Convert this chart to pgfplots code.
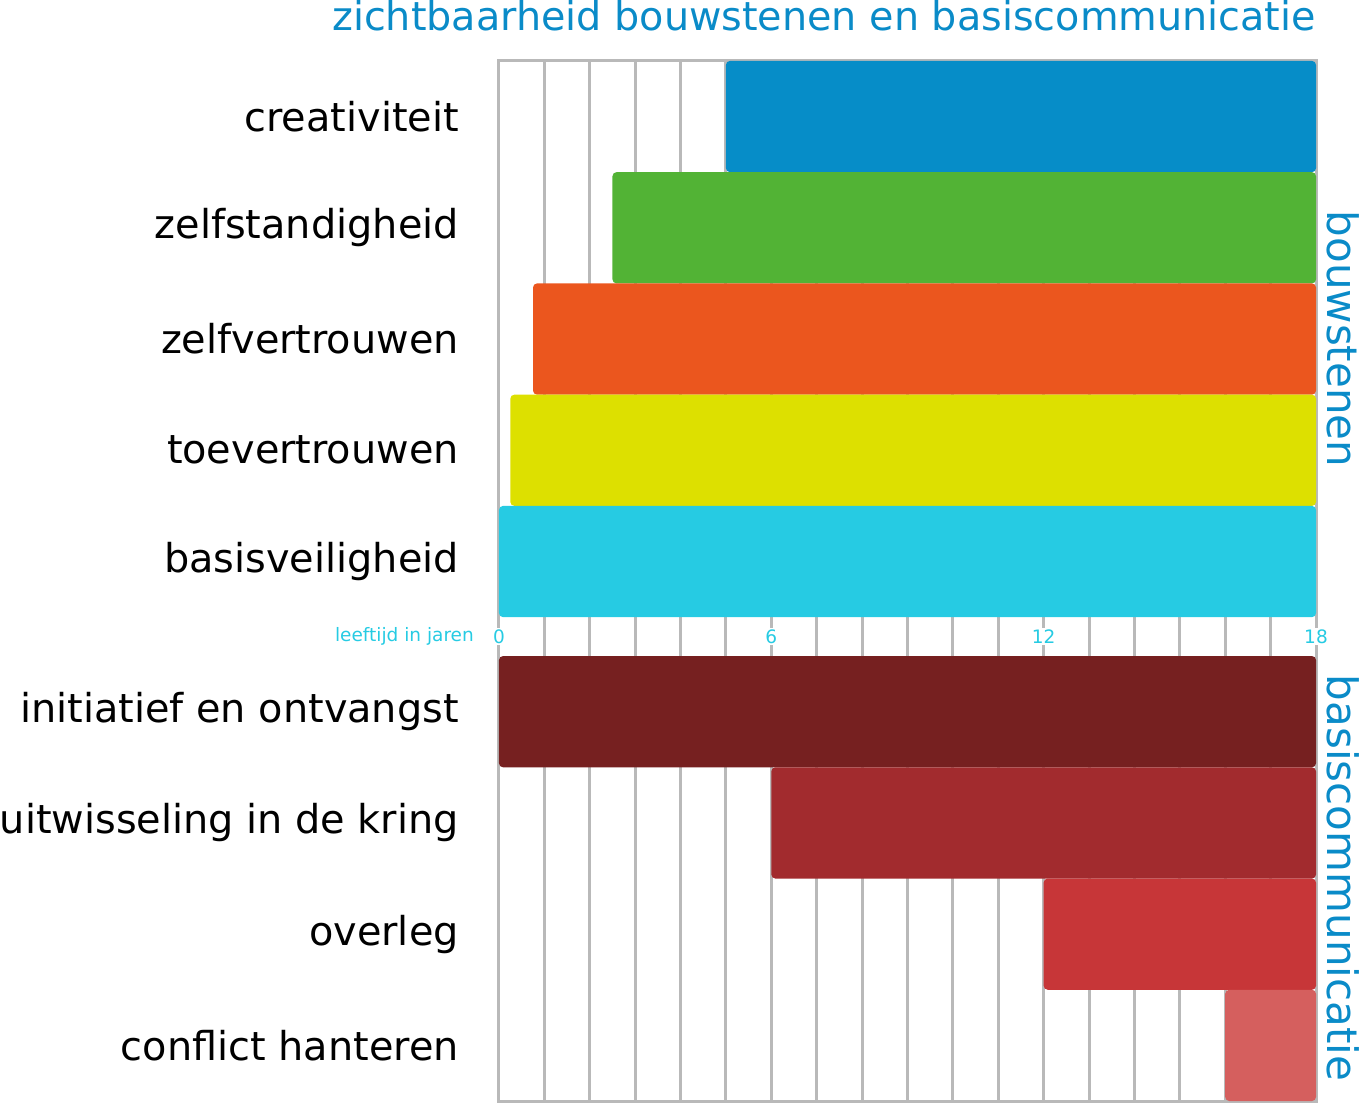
\documentclass[border=0pt]{standalone}
\usepackage{pgfplots}
\pgfplotsset{compat=1.18}
\usepackage{fontspec}
\setmainfont{DejaVu Sans}
\definecolor{titleblue}{HTML}{0A8BC8}
\definecolor{tickcyan}{HTML}{26CBE3}
\definecolor{gridgray}{HTML}{B9B9B9}
\definecolor{cCre}{HTML}{068DC8}
\definecolor{cZst}{HTML}{52B335}
\definecolor{cZvt}{HTML}{EB561E}
\definecolor{cTvt}{HTML}{DDE000}
\definecolor{cBas}{HTML}{26CBE3}
\definecolor{cIni}{HTML}{762020}
\definecolor{cUit}{HTML}{A22B2E}
\definecolor{cOve}{HTML}{C73638}
\definecolor{cCon}{HTML}{D55F5E}
\begin{document}
\begin{tikzpicture}
\useasboundingbox (0,0) rectangle (1363pt,1103pt);
\begin{axis}[
  at={(499pt,2pt)}, anchor=south west,
  scale only axis, width=817pt, height=1040pt,
  xmin=0, xmax=18, ymin=-0.5, ymax=8.85, y dir=reverse,
  xtick={0,1,...,18}, xticklabel=\empty,
  xmajorgrids, grid style={gridgray, line width=3pt},
  ytick={0,1,2,3,4,5.35,6.35,7.35,8.35},
  yticklabels={creativiteit,zelfstandigheid,zelfvertrouwen,toevertrouwen,basisveiligheid,initiatief en ontvangst,uitwisseling in de kring,overleg,conflict hanteren},
  yticklabel style={font=\fontsize{39.8}{42}\selectfont, text=black, inner sep=0pt, xshift=-40pt},
  major tick length=0pt,
  axis line style={draw=gridgray, line width=3pt},
  clip=false,
]
% bouwstenen: start age .. 18
\addplot[fill=cCre, draw=none, rounded corners=4pt] coordinates {(5,-0.5) (18,-0.5) (18,0.5) (5,0.5)} -- cycle;
\addplot[fill=cZst, draw=none, rounded corners=4pt] coordinates {(2.5,0.5) (18,0.5) (18,1.5) (2.5,1.5)} -- cycle;
\addplot[fill=cZvt, draw=none, rounded corners=4pt] coordinates {(0.75,1.5) (18,1.5) (18,2.5) (0.75,2.5)} -- cycle;
\addplot[fill=cTvt, draw=none, rounded corners=4pt] coordinates {(0.25,2.5) (18,2.5) (18,3.5) (0.25,3.5)} -- cycle;
\addplot[fill=cBas, draw=none, rounded corners=4pt] coordinates {(0,3.5) (18,3.5) (18,4.5) (0,4.5)} -- cycle;
% basiscommunicatie
\addplot[fill=cIni, draw=none, rounded corners=4pt] coordinates {(0,4.85) (18,4.85) (18,5.85) (0,5.85)} -- cycle;
\addplot[fill=cUit, draw=none, rounded corners=4pt] coordinates {(6,5.85) (18,5.85) (18,6.85) (6,6.85)} -- cycle;
\addplot[fill=cOve, draw=none, rounded corners=4pt] coordinates {(12,6.85) (18,6.85) (18,7.85) (12,7.85)} -- cycle;
\addplot[fill=cCon, draw=none, rounded corners=4pt] coordinates {(16,7.85) (18,7.85) (18,8.85) (16,8.85)} -- cycle;
\foreach \v in {0,6,12,18}{
  \edef\tmp{\noexpand\node[fill=white, inner sep=1.5pt, text=tickcyan, font=\noexpand\fontsize{18.5}{18.5}\noexpand\selectfont] at (axis cs:\v,4.675) {\v};}
  \tmp
}
\node[anchor=east, inner sep=0pt, text=tickcyan, font=\fontsize{18.5}{18.5}\selectfont, xshift=-25pt] at (axis cs:0,4.675) {leeftijd in jaren};
\end{axis}
\node[anchor=base east, inner sep=0pt, text=titleblue, font=\fontsize{39.7}{42}\selectfont] at (1316pt,1072pt) {zichtbaarheid bouwstenen en basiscommunicatie};
\node[rotate=-90, inner sep=0pt, text=titleblue, font=\fontsize{42}{42}\selectfont] at (1343pt,764pt) {bouwstenen};
\node[rotate=-90, inner sep=0pt, text=titleblue, font=\fontsize{42}{42}\selectfont] at (1343pt,225pt) {basiscommunicatie};
\end{tikzpicture}
\end{document}
